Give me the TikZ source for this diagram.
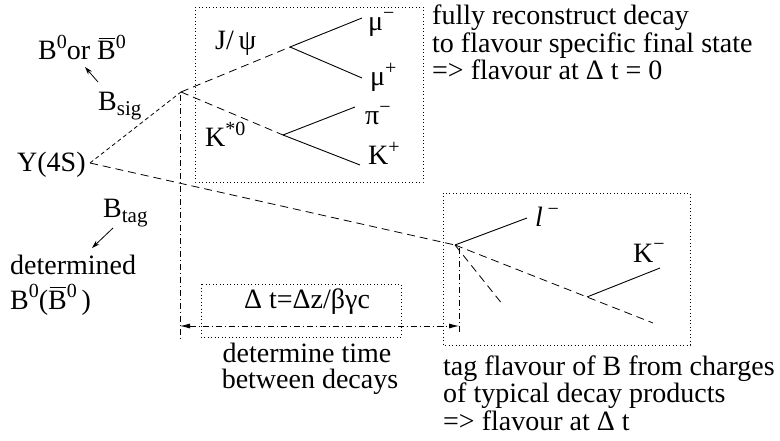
\documentclass[tikz,border=0pt]{standalone}
\usepackage{fontspec}
\setmainfont{Liberation Serif}
\usetikzlibrary{arrows.meta}
\newcommand\supr[1]{\raisebox{0.42em}{\fontsize{20}{20}\selectfont #1}}
\newcommand\subr[1]{\raisebox{-0.17em}{\fontsize{21}{21}\selectfont #1}}
\newcommand\barB{\leavevmode\rlap{\hspace{0.05em}\rule[0.76em]{0.57em}{1pt}}B}
\begin{document}
\begin{tikzpicture}[x=1pt,y=-1pt,
  lbl/.style={inner sep=0pt, font=\fontsize{28}{28}\selectfont},
  ldash/.style={dash pattern=on 8pt off 5pt, line width=0.8pt},
  sdash/.style={dash pattern=on 4pt off 3pt, line width=0.8pt},
  ddot/.style={dash pattern=on 6pt off 3pt on 1pt off 3pt, line width=0.8pt},
  dotbox/.style={dash pattern=on 0.9pt off 2.6pt, line width=0.9pt},
  sline/.style={line width=0.9pt},
  tipline/.style={line width=0.8pt, -{Stealth[length=8pt,width=5pt]}},
  dtarrow/.style={ddot, {Latex[length=10pt,width=5pt]}-{Latex[length=10pt,width=5pt]}}
]
\useasboundingbox (0,0) rectangle (780,441);

% vertices and end points
\coordinate (O) at (90,163);
\coordinate (S) at (181,92);
\coordinate (J) at (290,47);
\coordinate (K) at (283,135);
\coordinate (mum) at (362,18);
\coordinate (mup) at (362,78);
\coordinate (pim) at (355,107);
\coordinate (kp) at (360,165);
\coordinate (T) at (455,245);
\coordinate (E) at (653,323);
\coordinate (Kb) at (587,297);
\coordinate (Ke) at (660,268);
\coordinate (le) at (527,218);
\coordinate (se) at (503,305);
\coordinate (St) at (180,95);
\coordinate (Sb) at (180,340);
\coordinate (Tt) at (459,248);
\coordinate (Tb) at (459,332);
\coordinate (Al) at (180,326);
\coordinate (Ar) at (459,326);

% boxes
\draw[dotbox] (195,7) rectangle (423,182);
\draw[dotbox] (443,193) rectangle (690,345);
\draw[dotbox] (201,284) rectangle (401,337);

% labels
\node[lbl, anchor=base west] (b0) at (38,60) {B\supr{0}or \barB\supr{0}};
\node[lbl, anchor=base west] (bsig) at (98,111) {B\subr{sig}};
\node[lbl, anchor=base west] (y4s) at (17,172) {Y(4S)};
\node[lbl, anchor=base west] (btag) at (103,218) {B\subr{tag}};
\node[lbl, anchor=base west] (det1) at (10,275) {determined};
\node[lbl, anchor=base west] (det2) at (10,309) {B\supr{0}(\barB\supr{0}\,)};

\node[lbl, anchor=base west] (jpsi) at (215,50) {J/\,ψ};
\node[lbl, anchor=base west] (kst) at (205,147) {K\supr{*0}};
\node[lbl, anchor=base west] (lmum) at (368,31) {μ\supr{−}};
\node[lbl, anchor=base west] (lmup) at (370,86) {μ\supr{+}};
\node[lbl, anchor=base west] (lpim) at (365,125) {π\supr{−}};
\node[lbl, anchor=base west] (lkp) at (368,165) {K\supr{+}};

\node[lbl, anchor=base west] (r1) at (432,25) {fully reconstruct decay};
\node[lbl, anchor=base west] (r2) at (432,53) {to flavour specific final state};
\node[lbl, anchor=base west] (r3) at (432,80) {=> flavour at Δ t = 0};

\node[lbl, anchor=base west] (ll) at (535,227) {\textit{l}\,\supr{−}};
\node[lbl, anchor=base west] (lkm) at (633,262) {K\supr{−}};

\node[lbl, anchor=base] (dt) at (307,308) {Δ t=Δz/βγc};
\node[lbl, anchor=base] (dtime1) at (307,362) {determine time};
\node[lbl, anchor=base] (dtime2) at (310,388) {between decays};

\node[lbl, anchor=base west] (t1) at (443,375) {tag flavour of B from charges};
\node[lbl, anchor=base west] (t2) at (443,402) {of typical decay products};
\node[lbl, anchor=base west] (t3) at (443,430) {=> flavour at Δ t};

% arrows to labels
\draw[tipline] (98,82) -- (85,67);
\draw[tipline] (113,228) -- (92,248);

% decay lines
\draw[sdash] (O) -- (S);
\draw[ldash] (S) -- (J);
\draw[ldash] (S) -- (K);
\draw[sline] (J) -- (mum);
\draw[sline] (J) -- (mup);
\draw[sline] (K) -- (pim);
\draw[sline] (K) -- (kp);
\draw[ldash] (O) -- (T);
\draw[ldash] (T) -- (E);
\draw[ldash] (T) -- (se);
\draw[sline] (T) -- (le);
\draw[sline] (Kb) -- (Ke);

% time measurement
\draw[ddot] (St) -- (Sb);
\draw[ddot] (Tt) -- (Tb);
\draw[dtarrow] (Al) -- (Ar);
\end{tikzpicture}
\end{document}
